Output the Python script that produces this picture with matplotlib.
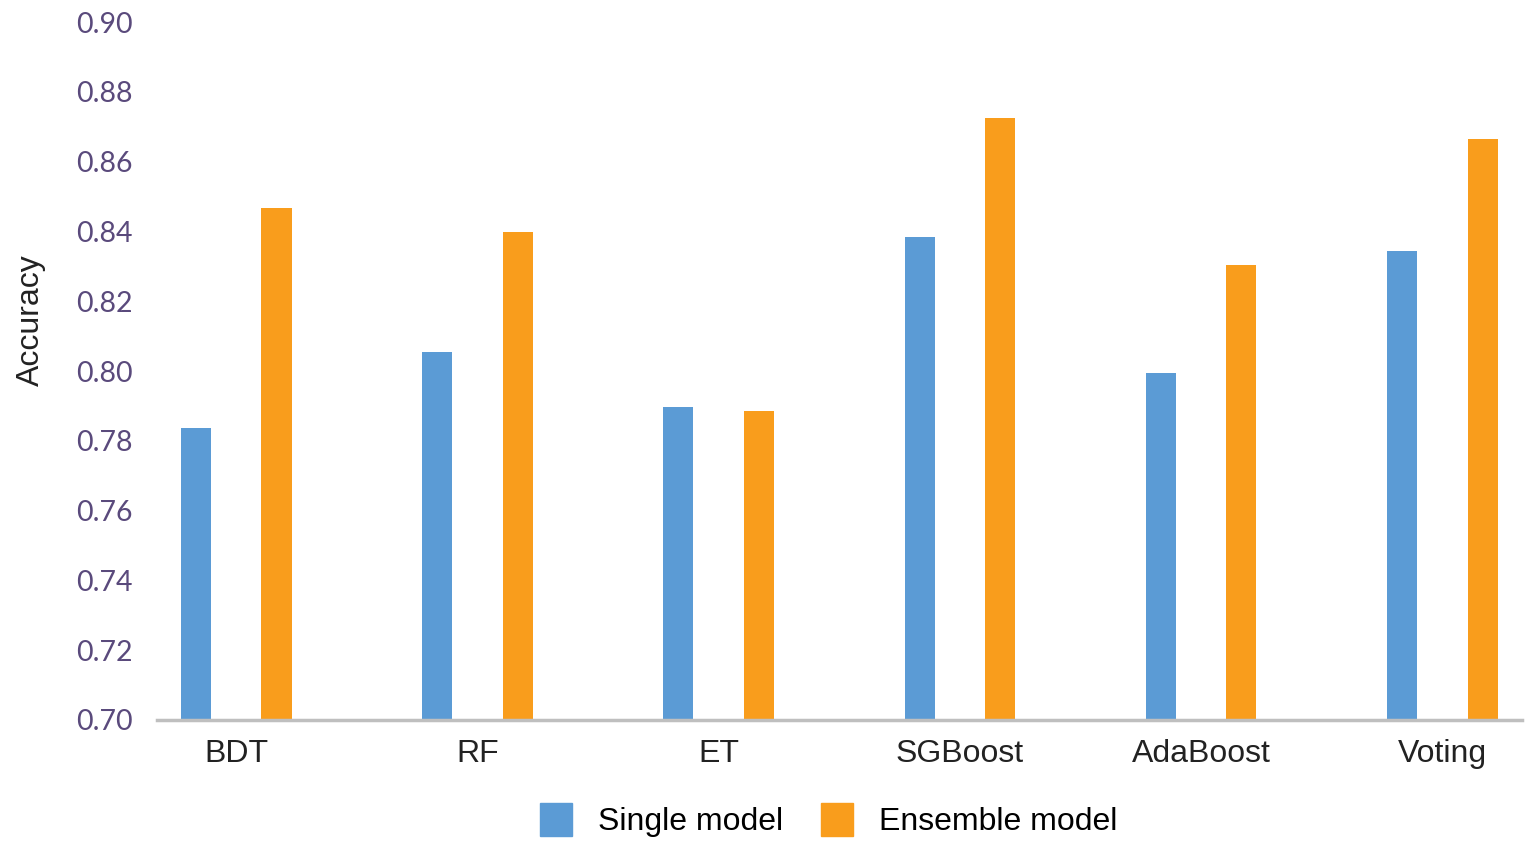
import numpy as np
import matplotlib
matplotlib.use('Agg')
import matplotlib.pyplot as plt
from matplotlib.patches import Patch

# data
models = ['BDT', 'RF', 'ET', 'SGBoost', 'AdaBoost', 'Voting']
single = [0.7837, 0.8054, 0.7897, 0.8384, 0.7994, 0.8344]
ensemble = [0.8467, 0.8398, 0.7885, 0.8725, 0.8304, 0.8665]
yticks = [0.70, 0.72, 0.74, 0.76, 0.78, 0.80, 0.82, 0.84, 0.86, 0.88, 0.90]

blue = '#5b9bd5'
orange = '#f99d1c'

fig = plt.figure(figsize=(15.35, 8.5), dpi=100)
ax = fig.add_axes([0.102, 0.153, 0.8895, 0.821])

x = np.arange(len(models))
w = 0.125
ax.bar(x - 0.167, single, w, color=blue)
ax.bar(x + 0.167, ensemble, w, color=orange)

ax.set_ylim(0.70, 0.90)
ax.set_xlim(-0.33, 5.33)
ax.set_yticks(yticks)
ax.set_yticklabels(['%.2f' % v for v in yticks], fontfamily='Lato',
                   fontsize=20.5, color='#5a4a7c')
ax.set_xticks(x)
ax.set_xticklabels(models, fontfamily='Liberation Sans', fontsize=23, color='#222222')
ax.tick_params(axis='both', length=0)
ax.tick_params(axis='x', pad=14)
ax.tick_params(axis='y', pad=17)

for s in ['top', 'right', 'left']:
    ax.spines[s].set_visible(False)
ax.spines['bottom'].set_color('#bfbfbf')
ax.spines['bottom'].set_linewidth(2.5)

ax.set_ylabel('Accuracy', fontfamily='Liberation Sans', fontsize=23, color='#222222')
ax.yaxis.set_label_coords(-0.081, 0.573)

handles = [Patch(color=blue, label='Single model'),
           Patch(color=orange, label='Ensemble model')]
fig.legend(handles=handles, loc='center', bbox_to_anchor=(0.54, 0.035),
           ncol=2, frameon=False, prop={'family': 'Liberation Sans', 'size': 23},
           handlelength=1.0, handleheight=1.2, handletextpad=0.8, columnspacing=1.2)

fig.savefig('out.png', dpi=100)
